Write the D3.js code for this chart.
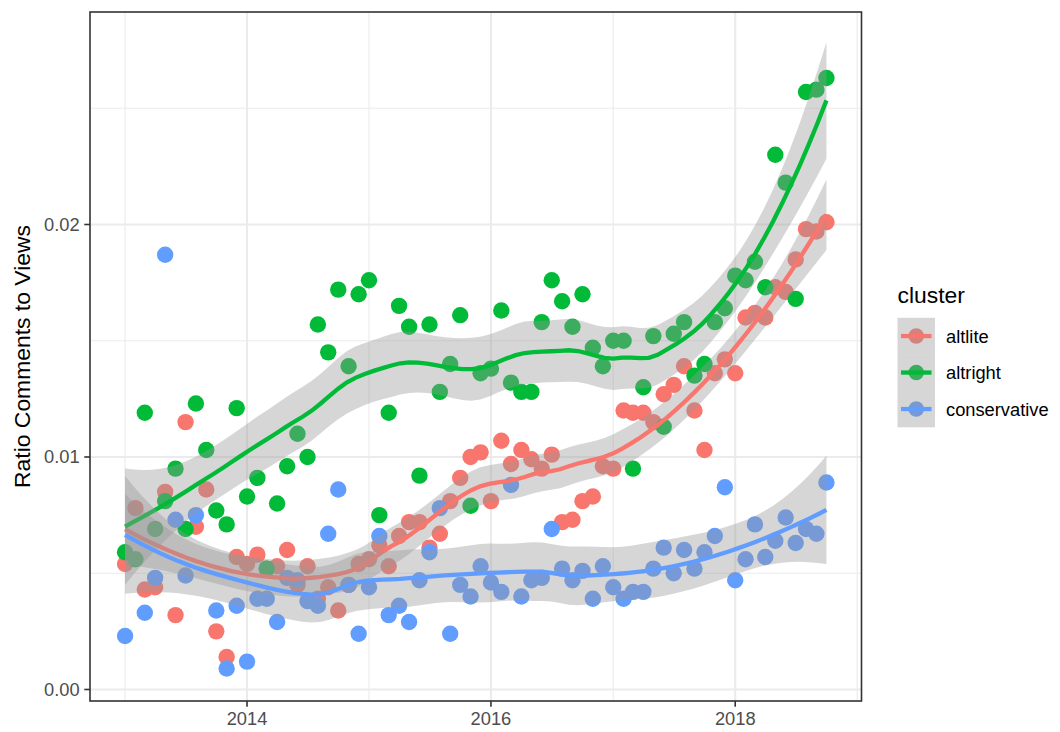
<!DOCTYPE html>
<html>
<head>
<meta charset="utf-8">
<script src="https://cdn.jsdelivr.net/npm/d3@7"></script>
<style>
body { margin: 0; background: #fff; }
text { font-family: "Liberation Sans", Arial, sans-serif; }
</style>
</head>
<body>
<svg id="chart"></svg>
<script>
var width = 1060;
var height = 732;

// monthly observations, Jan 2013 .. Oct 2018
var months = d3.utcMonth.range(new Date(Date.UTC(2013, 0, 1)), new Date(Date.UTC(2018, 10, 1)));

var clusters = ["altlite", "altright", "conservative"];
var colors = ["#F8766D", "#00BA38", "#619CFF"];

var altlite = [0.0054, 0.0078, 0.0043, 0.0044, 0.0085, 0.0032, 0.0115, 0.0070, 0.0086, 0.0025,
               0.0014, 0.0057, 0.0054, 0.0058, 0.0052, 0.0053, 0.0060, 0.0045, 0.0053, 0.0039,
               0.0044, 0.0034, 0.0045, 0.0054, 0.0056, 0.0062, 0.0053, 0.0066, 0.0072, 0.0072,
               0.0061, 0.0067, 0.0081, 0.0091, 0.0100, 0.0102, 0.0081, 0.0107, 0.0097, 0.0103,
               0.0099, 0.0095, 0.0101, 0.0072, 0.0073, 0.0081, 0.0083, 0.0096, 0.0095, 0.0120,
               0.0119, 0.0119, 0.0115, 0.0127, 0.0131, 0.0139, 0.0120, 0.0103, 0.0136, 0.0142,
               0.0136, 0.0160, 0.0162, 0.0160, 0.0173, 0.0171, 0.0185, 0.0198, 0.0197, 0.0201];

var altright = [0.0059, 0.0056, 0.0119, 0.0069, 0.0081, 0.0095, 0.0069, 0.0123, 0.0103, 0.0077,
                0.0071, 0.0121, 0.0083, 0.0091, 0.0052, 0.0080, 0.0096, 0.0110, 0.0100, 0.0157,
                0.0145, 0.0172, 0.0139, 0.0170, 0.0176, 0.0075, 0.0119, 0.0165, 0.0156, 0.0092,
                0.0157, 0.0128, 0.0140, 0.0161, 0.0079, 0.0136, 0.0138, 0.0163, 0.0132, 0.0128,
                0.0128, 0.0158, 0.0176, 0.0167, 0.0156, 0.0170, 0.0147, 0.0139, 0.0150, 0.0150,
                0.0095, 0.0130, 0.0152, 0.0113, 0.0153, 0.0158, 0.0135, 0.0140, 0.0158, 0.0164,
                0.0178, 0.0176, 0.0184, 0.0173, 0.0230, 0.0218, 0.0168, 0.0257, 0.0258, 0.0263];

var conservative = [0.0023, null, 0.0033, 0.0048, 0.0187, 0.0073, 0.0049, 0.0075, null, 0.0034,
                    0.0009, 0.0036, 0.0012, 0.0039, 0.0039, 0.0029, 0.0048, 0.0047, 0.0038, 0.0036,
                    0.0067, 0.0086, 0.0045, 0.0024, 0.0044, 0.0066, 0.0032, 0.0036, 0.0029, 0.0047,
                    0.0059, 0.0078, 0.0024, 0.0045, 0.0040, 0.0053, 0.0046, 0.0042, 0.0088, 0.0040,
                    0.0047, 0.0048, 0.0069, 0.0052, 0.0047, 0.0051, 0.0039, 0.0053, 0.0044, 0.0039,
                    0.0042, 0.0042, 0.0052, 0.0061, 0.0050, 0.0060, 0.0052, 0.0059, 0.0066, 0.0087,
                    0.0047, 0.0056, 0.0071, 0.0057, 0.0064, 0.0074, 0.0063, 0.0069, 0.0067, 0.0089];

var seriesValues = [altlite, altright, conservative];

var xMajor = [2014, 2016, 2018];
var xMinor = [2013, 2015, 2017, 2019];
var yMajor = [0, 0.01, 0.02];
var yMajorLabels = ["0.00", "0.01", "0.02"];
var yMinor = [0.005, 0.015, 0.025];

var smoothSpan = 0.6;

var panel = {left: 90, right: 861.5, top: 12, bottom: 701};

var svg = d3.select("#chart")
            .attr("width", width)
            .attr("height", height)

var ext = d3.extent(months);
var pad = (ext[1] - ext[0]) * 0.05;
var x = d3.scaleUtc()
          .domain([new Date(+ext[0] - pad), new Date(+ext[1] + pad)])
          .range([panel.left, panel.right]);
var y = d3.scaleLinear()
          .domain([-0.000495, 0.02914])
          .range([panel.bottom, panel.top]);

function yearDate(yr) { return new Date(Date.UTC(yr, 0, 1)); }

// grid
var grid = svg.append("g");
grid.selectAll(".ymin").data(yMinor).enter().append("line")
    .attr("x1", panel.left).attr("x2", panel.right)
    .attr("y1", function(d) { return y(d); }).attr("y2", function(d) { return y(d); })
    .attr("stroke", "#EBEBEB").attr("stroke-width", 1.1);
grid.selectAll(".xmin").data(xMinor).enter().append("line")
    .attr("y1", panel.top).attr("y2", panel.bottom)
    .attr("x1", function(d) { return x(yearDate(d)); }).attr("x2", function(d) { return x(yearDate(d)); })
    .attr("stroke", "#EBEBEB").attr("stroke-width", 1.1);
grid.selectAll(".ymaj").data(yMajor).enter().append("line")
    .attr("x1", panel.left).attr("x2", panel.right)
    .attr("y1", function(d) { return y(d); }).attr("y2", function(d) { return y(d); })
    .attr("stroke", "#EBEBEB").attr("stroke-width", 2.1);
grid.selectAll(".xmaj").data(xMajor).enter().append("line")
    .attr("y1", panel.top).attr("y2", panel.bottom)
    .attr("x1", function(d) { return x(yearDate(d)); }).attr("x2", function(d) { return x(yearDate(d)); })
    .attr("stroke", "#EBEBEB").attr("stroke-width", 2.1);

// ---------- loess (degree 2, tricube) with kd-tree vertices + cubic hermite, like R ----------
function solve3(M, b) {
    var A = M.map(function(r, i) { return r.concat([b[i]]); });
    for (var c = 0; c < 3; c++) {
        var p = c;
        for (var r = c + 1; r < 3; r++) if (Math.abs(A[r][c]) > Math.abs(A[p][c])) p = r;
        var tmp = A[c]; A[c] = A[p]; A[p] = tmp;
        for (var r2 = c + 1; r2 < 3; r2++) {
            var f = A[r2][c] / A[c][c];
            for (var k = c; k < 4; k++) A[r2][k] -= f * A[c][k];
        }
    }
    var s = [0, 0, 0];
    for (var i = 2; i >= 0; i--) {
        var v = A[i][3];
        for (var j = i + 1; j < 3; j++) v -= A[i][j] * s[j];
        s[i] = v / A[i][i];
    }
    return s;
}

// t quantile (0.975) by Cornish-Fisher expansion
function qt975(df) {
    var z = 1.959964;
    var z3 = z * z * z, z5 = z3 * z * z, z7 = z5 * z * z, z9 = z7 * z * z;
    return z + (z3 + z) / 4 / df
             + (5 * z5 + 16 * z3 + 3 * z) / 96 / (df * df)
             + (3 * z7 + 19 * z5 + 17 * z3 - 15 * z) / 384 / (df * df * df)
             + (79 * z9 + 776 * z7 + 1482 * z5 - 1920 * z3 - 945 * z) / 92160 / (df * df * df * df);
}

// operator rows (value and slope) of the local quadratic fit at x0
function localRows(xs, q, x0) {
    var n = xs.length;
    var d = xs.map(function(v) { return Math.abs(v - x0); });
    var h = d.slice().sort(d3.ascending)[q - 1];
    var w = d.map(function(di) { var u = di / h; return u < 1 ? Math.pow(1 - u * u * u, 3) : 0; });
    var S = [0, 0, 0, 0, 0];
    for (var i = 0; i < n; i++) {
        var t = (xs[i] - x0) / h, p = w[i];
        for (var k = 0; k < 5; k++) { S[k] += p; p *= t; }
    }
    var M = [[S[0], S[1], S[2]], [S[1], S[2], S[3]], [S[2], S[3], S[4]]];
    var a = solve3(M, [1, 0, 0]), b = solve3(M, [0, 1, 0]);
    return {
        val: xs.map(function(v, i) { var t = (v - x0) / h; return w[i] * (a[0] + a[1] * t + a[2] * t * t); }),
        slope: xs.map(function(v, i) { var t = (v - x0) / h; return w[i] * (b[0] + b[1] * t + b[2] * t * t) / h; })
    };
}

function loess(xs, ys, span, nEval) {
    var n = xs.length;
    var q = Math.floor(n * span + 1e-5);
    var fc = Math.floor(n * span * 0.2);
    var lo = xs[0], hi = xs[n - 1], mu = 0.005 * (hi - lo);
    var verts = [lo - mu, hi + mu];
    (function build(l, u) {
        if (u - l + 1 <= fc) return;
        var m = Math.floor((l + u + 2) / 2) - 1;
        verts.push((xs[m] + xs[m + 1]) / 2);
        build(l, m);
        build(m + 1, u);
    })(0, n - 1);
    verts.sort(d3.ascending);
    var vr = verts.map(function(v) { return localRows(xs, q, v); });
    function rowAt(x0) {
        var j = Math.min(verts.length - 2, Math.max(0, d3.bisectRight(verts, x0) - 1));
        var v0 = verts[j], v1 = verts[j + 1], hh = v1 - v0, s = (x0 - v0) / hh;
        var h00 = 2*s*s*s - 3*s*s + 1, h10 = s*s*s - 2*s*s + s, h01 = -2*s*s*s + 3*s*s, h11 = s*s*s - s*s;
        return xs.map(function(_, i) {
            return h00 * vr[j].val[i] + h10 * hh * vr[j].slope[i]
                 + h01 * vr[j + 1].val[i] + h11 * hh * vr[j + 1].slope[i];
        });
    }
    var L = xs.map(rowAt);
    var res = L.map(function(l, i) { return ys[i] - d3.sum(l, function(li, j) { return li * ys[j]; }); });
    var A = L.map(function(l, i) { return l.map(function(li, j) { return (i === j ? 1 : 0) - li; }); });
    var one = 0, two = 0;
    for (var i = 0; i < n; i++) for (var j = 0; j < n; j++) {
        one += A[i][j] * A[i][j];
        var bb = 0;
        for (var k = 0; k < n; k++) bb += A[k][i] * A[k][j];
        two += bb * bb;
    }
    var sig = Math.sqrt(d3.sum(res, function(r) { return r * r; }) / one);
    var tq = qt975(one * one / two);
    var out = [];
    for (var e = 0; e < nEval; e++) {
        var x0 = lo + (hi - lo) * e / (nEval - 1);
        var l = rowAt(x0);
        var fit = d3.sum(l, function(li, j) { return li * ys[j]; });
        var se = sig * Math.sqrt(d3.sum(l, function(li) { return li * li; }));
        out.push({x: new Date(x0), fit: fit, lo: fit - tq * se, hi: fit + tq * se});
    }
    return out;
}

// points
var pts = svg.append("g");
seriesValues.forEach(function(vals, g) {
    var data = months.map(function(m, i) { return {date: m, v: vals[i]}; })
                     .filter(function(d) { return d.v != null; });
    pts.selectAll(".p" + g).data(data).enter().append("circle")
        .attr("cx", function(d) { return x(d.date); })
        .attr("cy", function(d) { return y(d.v); })
        .attr("r", 8.2)
        .attr("fill", colors[g]);
});

// smooths: ribbon then line, per group
var area = d3.area()
             .x(function(d) { return x(d.x); })
             .y0(function(d) { return y(d.lo); })
             .y1(function(d) { return y(d.hi); });
var line = d3.line()
             .x(function(d) { return x(d.x); })
             .y(function(d) { return y(d.fit); });

seriesValues.forEach(function(vals, g) {
    var xs = [], ys = [];
    vals.forEach(function(v, i) { if (v != null) { xs.push(+months[i]); ys.push(v); } });
    var sm = loess(xs, ys, smoothSpan, 80);
    svg.append("path")
        .attr("d", area(sm))
        .attr("fill", "#999999")
        .attr("fill-opacity", 0.4);
    svg.append("path")
        .attr("d", line(sm))
        .attr("fill", "none")
        .attr("stroke", colors[g])
        .attr("stroke-width", 4.3);
});

// panel border
svg.append("rect")
    .attr("x", panel.left).attr("y", panel.top)
    .attr("width", panel.right - panel.left).attr("height", panel.bottom - panel.top)
    .attr("fill", "none").attr("stroke", "#333333").attr("stroke-width", 1.6);

// axes
var axes = svg.append("g");
axes.selectAll(".yt").data(yMajor).enter().append("line")
    .attr("x1", panel.left - 5.7).attr("x2", panel.left)
    .attr("y1", function(d) { return y(d); }).attr("y2", function(d) { return y(d); })
    .attr("stroke", "#333333").attr("stroke-width", 1.6);
axes.selectAll(".yl").data(yMajor).enter().append("text")
    .attr("x", panel.left - 10.3)
    .attr("y", function(d) { return y(d) + 6.5; })
    .attr("text-anchor", "end")
    .attr("font-size", "18.3px")
    .attr("fill", "#4D4D4D")
    .text(function(d, i) { return yMajorLabels[i]; });
axes.selectAll(".xt").data(xMajor).enter().append("line")
    .attr("y1", panel.bottom).attr("y2", panel.bottom + 5.7)
    .attr("x1", function(d) { return x(yearDate(d)); }).attr("x2", function(d) { return x(yearDate(d)); })
    .attr("stroke", "#333333").attr("stroke-width", 1.6);
axes.selectAll(".xl").data(xMajor).enter().append("text")
    .attr("x", function(d) { return x(yearDate(d)); })
    .attr("y", 724.5)
    .attr("text-anchor", "middle")
    .attr("font-size", "18.3px")
    .attr("fill", "#4D4D4D")
    .text(function(d) { return String(d); });

svg.append("text")
    .attr("transform", "translate(30," + ((panel.top + panel.bottom) / 2) + ") rotate(-90)")
    .attr("text-anchor", "middle")
    .attr("font-size", "22.9px")
    .attr("fill", "#000")
    .text("Ratio Comments to Views");

// legend
var lg = svg.append("g").attr("transform", "translate(897.5,0)");
lg.append("text")
    .attr("x", 0).attr("y", 302.7)
    .attr("font-size", "22.9px")
    .attr("fill", "#000")
    .text("cluster");
var keyTop = 317.8, keyH = 36.5, keyW = 37.5;
clusters.forEach(function(c, i) {
    var cy = keyTop + keyH * i + keyH / 2;
    lg.append("circle")
        .attr("cx", keyW / 2).attr("cy", cy).attr("r", 7.8)
        .attr("fill", colors[i]);
    lg.append("rect")
        .attr("x", 0).attr("y", keyTop + keyH * i)
        .attr("width", keyW).attr("height", keyH)
        .attr("fill", "#999999").attr("fill-opacity", 0.4);
    lg.append("line")
        .attr("x1", 3.5).attr("x2", keyW - 3.5)
        .attr("y1", cy).attr("y2", cy)
        .attr("stroke", colors[i]).attr("stroke-width", 4.3);
    lg.append("text")
        .attr("x", 48.5).attr("y", cy + 6.5)
        .attr("font-size", "18.3px")
        .attr("fill", "#000")
        .text(c);
});
</script>
</body>
</html>
